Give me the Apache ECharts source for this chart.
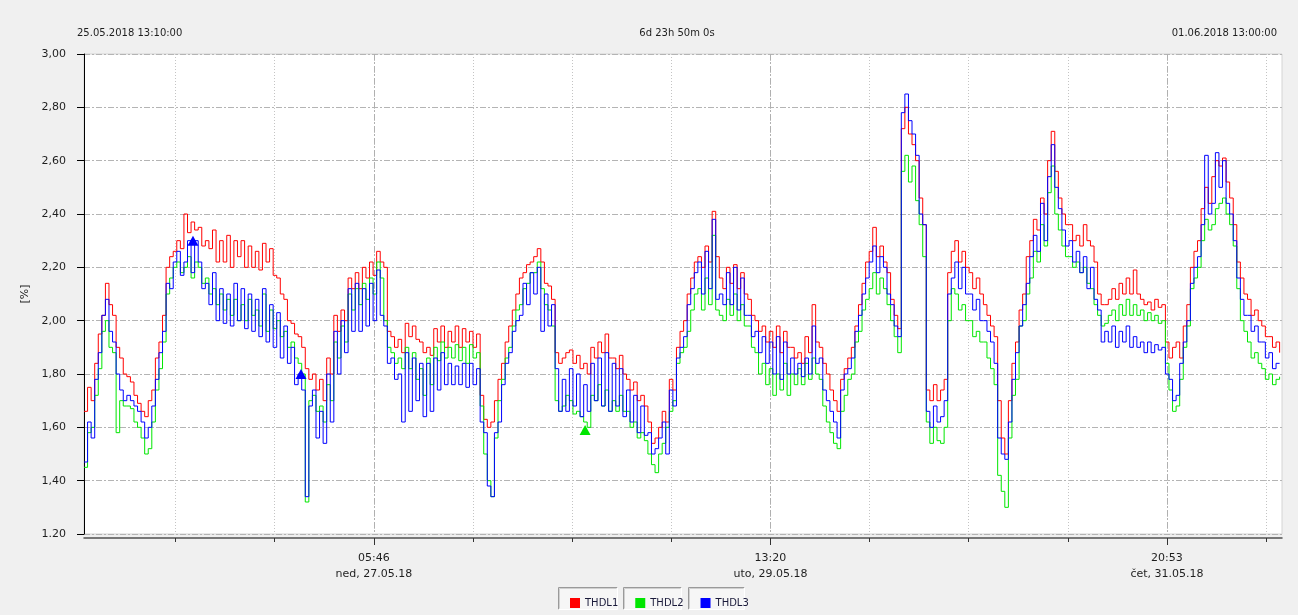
<!DOCTYPE html>
<html><head><meta charset="utf-8">
<script src="https://cdn.jsdelivr.net/npm/echarts@6/dist/echarts.min.js"></script>
<style>html,body{margin:0;padding:0;background:#f0f0f0;}#c{width:1298px;height:615px;}</style>
</head><body><div id="c"></div>
<script>
// ---- data (30-minute samples starting 25.05.2018 13:10) ----
const STEP_MIN = 30;
const TOTAL_MIN = 10070; // 6d 23h 50m
const seriesNames = ['THDL1', 'THDL2', 'THDL3'];
const seriesColors = ['#ff0000', '#00e600', '#0000ff'];

const thdl1 = [
1.66,1.75,1.70,1.84,1.95,2.02,2.14,2.06,2.02,1.90,1.86,1.80,
1.79,1.77,1.72,1.69,1.66,1.64,1.70,1.74,1.86,1.92,2.02,2.20,
2.24,2.26,2.30,2.27,2.40,2.33,2.37,2.34,2.35,2.28,2.30,2.27,
2.34,2.22,2.30,2.22,2.32,2.20,2.30,2.24,2.30,2.20,2.28,2.20,
2.26,2.19,2.29,2.22,2.27,2.17,2.16,2.10,2.08,2.00,1.99,1.95,
1.94,1.90,1.82,1.78,1.80,1.74,1.78,1.70,1.86,1.80,2.02,1.96,
2.04,2.00,2.16,2.12,2.18,2.12,2.20,2.16,2.22,2.17,2.26,2.22,
2.20,1.96,1.94,1.90,1.93,1.88,1.99,1.94,1.98,1.93,1.92,1.88,
1.90,1.87,1.97,1.92,1.98,1.90,1.96,1.92,1.98,1.90,1.97,1.92,
1.96,1.90,1.95,1.72,1.63,1.60,1.62,1.70,1.78,1.84,1.92,1.98,
2.04,2.10,2.16,2.18,2.21,2.22,2.24,2.27,2.22,2.14,2.13,2.08,
1.88,1.84,1.86,1.88,1.89,1.84,1.87,1.82,1.84,1.80,1.90,1.86,
1.92,1.88,1.95,1.86,1.86,1.82,1.87,1.80,1.78,1.74,1.77,1.70,
1.72,1.68,1.62,1.54,1.56,1.60,1.66,1.62,1.78,1.74,1.90,1.96,
2.00,2.10,2.16,2.22,2.24,2.20,2.28,2.22,2.41,2.24,2.16,2.12,
2.20,2.14,2.21,2.12,2.18,2.10,2.08,2.02,2.00,1.96,1.98,1.92,
1.96,1.90,1.98,1.88,1.96,1.90,1.90,1.86,1.88,1.84,1.94,1.88,
2.06,1.92,1.90,1.84,1.80,1.74,1.70,1.66,1.78,1.82,1.86,1.90,
1.98,2.06,2.14,2.22,2.26,2.35,2.24,2.28,2.22,2.18,2.08,2.02,
1.97,2.72,2.80,2.70,2.66,2.60,2.46,2.36,1.74,1.70,1.76,1.70,
1.74,1.78,2.18,2.26,2.30,2.22,2.26,2.20,2.18,2.12,2.16,2.10,
2.06,2.02,1.98,1.94,1.70,1.56,1.50,1.70,1.84,1.92,2.04,2.10,
2.24,2.30,2.38,2.34,2.46,2.40,2.60,2.71,2.56,2.46,2.40,2.36,
2.36,2.30,2.32,2.28,2.36,2.30,2.28,2.22,2.10,2.06,2.06,2.08,
2.12,2.08,2.14,2.10,2.16,2.10,2.19,2.10,2.08,2.06,2.07,2.04,
2.08,2.05,2.06,1.92,1.86,1.90,1.92,1.86,1.98,2.06,2.20,2.26,
2.30,2.42,2.50,2.44,2.54,2.60,2.58,2.61,2.52,2.46,2.36,2.22,
2.16,2.10,2.08,2.02,2.04,2.00,1.98,1.94,1.94,1.90,1.92,1.88
];
const thdl2 = [
1.45,1.58,1.60,1.72,1.82,1.96,2.00,1.90,1.88,1.58,1.70,1.68,
1.68,1.67,1.62,1.60,1.56,1.50,1.52,1.62,1.74,1.82,1.92,2.10,
2.16,2.20,2.22,2.18,2.20,2.24,2.16,2.22,2.20,2.14,2.16,2.10,
2.12,2.06,2.10,2.04,2.08,2.02,2.08,2.00,2.06,2.00,2.08,2.02,
2.04,1.98,2.10,1.96,2.04,1.97,2.00,1.94,1.96,1.90,1.92,1.86,
1.84,1.80,1.32,1.70,1.72,1.66,1.68,1.62,1.76,1.70,1.92,1.86,
1.98,1.92,2.10,2.04,2.12,2.06,2.14,2.08,2.16,2.10,2.22,2.16,
2.00,1.90,1.88,1.84,1.86,1.82,1.90,1.82,1.88,1.78,1.82,1.72,
1.86,1.76,1.90,1.85,1.92,1.86,1.90,1.86,1.91,1.85,1.90,1.84,
1.91,1.86,1.88,1.68,1.50,1.40,1.34,1.56,1.70,1.78,1.86,1.90,
1.98,2.04,2.06,2.12,2.14,2.18,2.18,2.22,2.12,2.06,2.04,1.98,
1.70,1.66,1.68,1.72,1.70,1.65,1.66,1.64,1.62,1.60,1.72,1.70,
1.76,1.68,1.74,1.66,1.70,1.66,1.72,1.66,1.66,1.60,1.62,1.56,
1.58,1.55,1.50,1.46,1.43,1.50,1.54,1.60,1.66,1.70,1.84,1.88,
1.90,1.96,2.04,2.10,2.12,2.04,2.16,2.06,2.32,2.04,2.02,2.00,
2.08,2.02,2.10,2.00,2.06,1.98,1.98,1.90,1.88,1.80,1.84,1.76,
1.82,1.72,1.80,1.74,1.84,1.72,1.80,1.76,1.82,1.76,1.84,1.78,
1.86,1.80,1.78,1.68,1.62,1.58,1.54,1.52,1.66,1.72,1.78,1.80,
1.92,1.96,2.04,2.08,2.12,2.18,2.10,2.16,2.12,2.06,2.00,1.94,
1.88,2.56,2.62,2.52,2.58,2.45,2.36,2.24,1.62,1.54,1.60,1.55,
1.54,1.60,2.00,2.12,2.10,2.04,2.06,2.00,2.00,1.94,1.96,1.92,
1.92,1.86,1.82,1.76,1.42,1.36,1.30,1.56,1.72,1.78,1.98,2.00,
2.10,2.16,2.26,2.22,2.36,2.28,2.48,2.58,2.40,2.34,2.28,2.24,
2.24,2.20,2.22,2.18,2.20,2.14,2.12,2.06,2.02,1.98,1.99,2.02,
2.04,2.00,2.06,2.02,2.08,2.02,2.06,2.02,2.04,2.00,2.03,2.00,
2.02,1.99,2.00,1.84,1.74,1.66,1.68,1.78,1.90,1.98,2.12,2.16,
2.20,2.30,2.38,2.34,2.36,2.42,2.44,2.46,2.40,2.36,2.28,2.12,
2.00,1.96,1.92,1.86,1.88,1.84,1.82,1.78,1.80,1.76,1.78,1.79
];
const thdl3 = [
1.47,1.62,1.56,1.78,1.88,2.02,2.08,1.96,1.92,1.80,1.74,1.70,
1.72,1.70,1.68,1.66,1.62,1.56,1.60,1.68,1.78,1.88,1.96,2.14,
2.12,2.22,2.26,2.17,2.22,2.30,2.18,2.30,2.22,2.12,2.14,2.06,
2.18,2.00,2.12,1.99,2.10,1.98,2.14,2.00,2.12,1.97,2.10,1.96,
2.08,1.94,2.12,1.92,2.06,1.90,2.03,1.86,1.98,1.84,1.90,1.76,
1.80,1.74,1.34,1.68,1.74,1.56,1.66,1.54,1.80,1.62,1.96,1.80,
2.00,1.88,2.12,1.96,2.14,1.96,2.12,1.98,2.14,2.00,2.19,2.02,
1.98,1.84,1.86,1.78,1.80,1.62,1.88,1.66,1.86,1.70,1.84,1.64,
1.84,1.66,1.86,1.74,1.88,1.76,1.84,1.76,1.83,1.76,1.84,1.75,
1.84,1.76,1.82,1.62,1.58,1.38,1.34,1.58,1.62,1.76,1.84,1.88,
1.96,2.00,2.02,2.14,2.06,2.18,2.10,2.20,1.96,2.10,1.98,2.06,
1.82,1.66,1.78,1.66,1.82,1.68,1.80,1.64,1.76,1.66,1.84,1.70,
1.86,1.68,1.88,1.66,1.84,1.68,1.82,1.64,1.74,1.62,1.72,1.58,
1.68,1.57,1.58,1.50,1.52,1.56,1.62,1.50,1.74,1.68,1.86,1.90,
1.94,2.06,2.12,2.18,2.22,2.10,2.26,2.12,2.38,2.08,2.10,2.06,
2.18,2.06,2.20,2.04,2.16,2.02,2.02,1.94,1.96,1.88,1.94,1.84,
1.92,1.80,1.94,1.78,1.92,1.80,1.86,1.80,1.84,1.79,1.86,1.80,
1.98,1.84,1.86,1.74,1.70,1.66,1.62,1.56,1.74,1.80,1.82,1.86,
1.96,2.02,2.10,2.16,2.22,2.28,2.18,2.24,2.20,2.10,2.06,1.98,
1.94,2.78,2.85,2.75,2.70,2.62,2.40,2.36,1.66,1.60,1.68,1.62,
1.64,1.70,2.10,2.16,2.22,2.12,2.20,2.10,2.10,2.04,2.08,2.00,
2.00,1.96,1.92,1.84,1.56,1.50,1.48,1.62,1.78,1.88,1.98,2.06,
2.14,2.24,2.32,2.26,2.44,2.30,2.54,2.66,2.50,2.42,2.34,2.28,
2.30,2.22,2.26,2.18,2.24,2.12,2.20,2.08,2.04,1.92,1.96,1.92,
1.98,1.90,1.96,1.92,1.98,1.90,1.94,1.90,1.92,1.88,1.92,1.88,
1.91,1.89,1.90,1.80,1.78,1.70,1.72,1.84,1.92,2.00,2.14,2.20,
2.24,2.36,2.62,2.40,2.44,2.63,2.50,2.60,2.44,2.40,2.30,2.16,
2.08,2.02,2.02,1.96,1.98,1.92,1.92,1.86,1.88,1.82,1.84,1.84
];

// markers: [seriesIndex, minutes from start, value]
const markers = [[2, 916, 2.30], [2, 1824, 1.80], [1, 4212, 1.59]];

// axis ticks (minutes from start)
const minorTickMin = [769, 1603, 2436, 3269, 4103, 4936, 5770, 6603, 7436, 8270, 9103, 9936];
const majorTickMin = [2436, 5770, 9103];
const majorTickLabels = ['05:46\nned, 27.05.18', '13:20\nuto, 29.05.18', '20:53\nčet, 31.05.18'];
const yTickLabels = ['1.20', '1,40', '1,60', '1,80', '2,00', '2,20', '2,40', '2,60', '2,80', '3,00'];
const headerLeft = '25.05.2018 13:10:00';
const headerMid = '6d 23h 50m 0s';
const headerRight = '01.06.2018 13:00:00';
const yName = '[%]';

// ---- chart ----
const FONT = 'DejaVu Sans';
const TXT = '#1e1e1e';
const chart = echarts.init(document.getElementById('c'), null, {renderer: 'canvas'});
const allData = [thdl1, thdl2, thdl3];

const series = allData.map((arr, si) => ({
  name: seriesNames[si],
  type: 'line',
  step: 'end',
  xAxisIndex: 0,
  showSymbol: false,
  symbol: 'none',
  animation: false,
  lineStyle: {color: seriesColors[si], width: 1},
  itemStyle: {color: seriesColors[si]},
  data: arr.map((v, i) => [i * STEP_MIN, v]),
  markPoint: {
    symbol: 'triangle',
    symbolSize: [11, 10],
    label: {show: false},
    animation: false,
    data: markers.filter(m => m[0] === si).map(m => ({coord: [m[1], m[2]], itemStyle: {color: seriesColors[si]}}))
  }
}));

const boxes = [[558, 59], [623, 58], [688, 56]];
const graphics = [
  {type: 'text', z: 10, style: {x: 77, y: 33, text: headerLeft, font: '10px "' + FONT + '"', fill: TXT, textAlign: 'left', textVerticalAlign: 'middle'}},
  {type: 'text', z: 10, style: {x: 677, y: 33, text: headerMid, font: '10px "' + FONT + '"', fill: TXT, textAlign: 'center', textVerticalAlign: 'middle'}},
  {type: 'text', z: 10, style: {x: 1277, y: 33, text: headerRight, font: '10px "' + FONT + '"', fill: TXT, textAlign: 'right', textVerticalAlign: 'middle'}}
];
boxes.forEach(b => {
  const x0 = b[0] + 0.5, x1 = b[0] + b[1] + 0.5, y0 = 587.5, y1 = 609.5;
  graphics.push({type: 'rect', z: 0, shape: {x: x0, y: y0, width: x1 - x0, height: y1 - y0}, style: {fill: '#f6f6f6', stroke: null}});
  graphics.push({type: 'polyline', z: 1, shape: {points: [[x0, y1], [x0, y0], [x1, y0]]}, style: {stroke: '#9a9a9a', lineWidth: 1, fill: null}});
  graphics.push({type: 'polyline', z: 1, shape: {points: [[x0 + 1, y1 - 1], [x0 + 1, y0 + 1], [x1 - 1, y0 + 1]]}, style: {stroke: '#d0d0d0', lineWidth: 1, fill: null}});
  graphics.push({type: 'polyline', z: 1, shape: {points: [[x0, y1], [x1, y1], [x1, y0]]}, style: {stroke: '#ffffff', lineWidth: 1, fill: null}});
});

chart.setOption({
  animation: false,
  backgroundColor: '#f0f0f0',
  textStyle: {fontFamily: FONT},
  grid: {left: 84, top: 54, width: 1198, height: 480, show: true, backgroundColor: '#ffffff', borderColor: '#d4d4d4', borderWidth: 1},
  legend: {
    data: seriesNames.map(n => ({name: n, icon: 'rect'})),
    left: 565, top: 593, itemWidth: 10, itemHeight: 10, itemGap: 17,
    selectedMode: false,
    textStyle: {fontFamily: FONT, fontSize: 10, color: '#1a1a3a'}
  },
  xAxis: [
    {
      type: 'value', min: 0, max: TOTAL_MIN, position: 'bottom', offset: 4,
      axisLine: {show: true, onZero: false, lineStyle: {color: '#505050', width: 1.5}},
      axisTick: {show: true, length: 4, customValues: minorTickMin, lineStyle: {color: '#333'}},
      axisLabel: {show: false},
      splitLine: {show: true, lineStyle: {color: '#c4c4c4', type: [1, 2], width: 1}}
    },
    {
      type: 'value', min: 0, max: TOTAL_MIN, position: 'bottom', offset: 4,
      axisLine: {show: false, onZero: false},
      axisTick: {show: true, length: 7, customValues: majorTickMin, lineStyle: {color: '#333'}},
      axisLabel: {
        show: true, customValues: majorTickMin, margin: 12, lineHeight: 16,
        fontFamily: FONT, fontSize: 11, color: TXT, align: 'center',
        formatter: v => { const i = majorTickMin.indexOf(Math.round(v)); return i >= 0 ? majorTickLabels[i] : ''; }
      },
      splitLine: {show: true, lineStyle: {color: '#b0b0b0', type: [6, 2, 2, 2], width: 1}}
    }
  ],
  yAxis: {
    type: 'value', min: 1.2, max: 3.0, interval: 0.2, offset: 4,
    name: yName, nameLocation: 'middle', nameGap: 48, nameRotate: 90,
    nameTextStyle: {fontFamily: FONT, fontSize: 11, color: TXT},
    axisLine: {show: true, lineStyle: {color: '#000', width: 1}},
    axisTick: {show: true, length: 7, lineStyle: {color: '#000'}},
    axisLabel: {
      margin: 14, fontFamily: FONT, fontSize: 11, color: TXT,
      formatter: v => yTickLabels[Math.round((v - 1.2) / 0.2)] || ''
    },
    splitLine: {show: true, lineStyle: {color: '#b4b4b4', type: [6, 2, 2, 2], width: 1}}
  },
  graphic: graphics,
  series: series
});
</script></body></html>
